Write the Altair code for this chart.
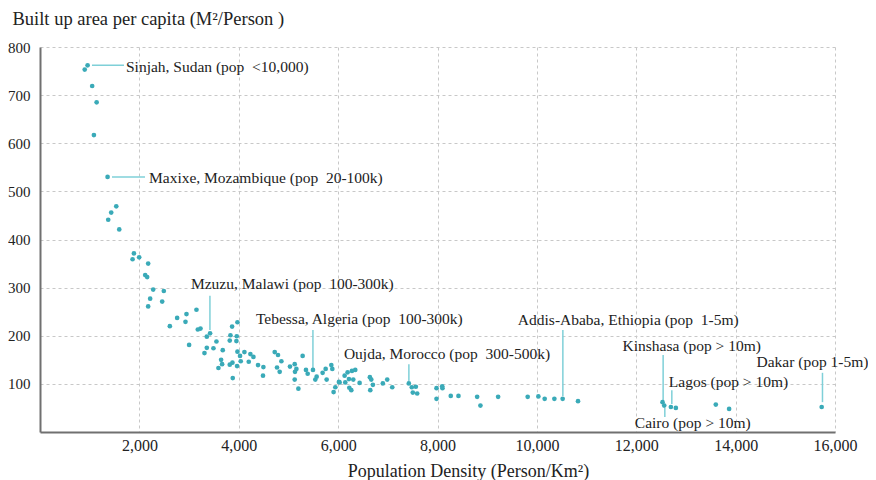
import altair as alt
import pandas as pd

density = [900, 958, 1050, 1140, 1085, 1360, 1535, 1433, 1373, 1595,
           1890, 1863, 1996, 2177, 2117, 2157, 2278, 2492, 2217, 2177,
           2459, 2613, 2760, 2928, 2948, 3149, 3001, 3176, 3230, 3423,
           3357, 3310, 3357, 3491, 3551, 3678, 3645, 3665, 3591, 3819,
           3833, 3866, 3974, 3960, 3953, 3974, 4026, 4114, 4040, 3873,
           3819, 3966, 3879, 4201, 4234, 4295, 4388, 4496, 4488, 4724,
           4790, 4858, 4770, 4824, 5031, 5126, 5160, 5132, 5126, 5200,
           5286, 5353, 5387, 5494, 5568, 5541, 5688, 5749, 5769, 5863,
           5883, 5944, 5909, 6030, 6131, 6144, 6191, 6218, 6225, 6265,
           6278, 6305, 6345, 6432, 6016, 6639, 6667, 6647, 6700, 6900,
           6988, 7089, 7423, 7483, 7564, 7503, 7591, 7980, 8094, 8100,
           7980, 8267, 8422, 8798, 8864, 9220, 9815, 10030, 10157, 10352,
           10519, 10828, 12529, 12563, 12697, 12797, 13601, 13869, 15732]
area = [753, 762, 719, 685, 617, 530, 469, 456, 441, 421,
        371, 359, 363, 350, 326, 322, 296, 293, 277, 261,
        271, 220, 237, 229, 245, 254, 181, 213, 215, 205,
        198, 164, 175, 174, 188, 170, 150, 141, 133, 190,
        201, 219, 228, 199, 189, 167, 158, 166, 147, 144,
        140, 137, 112, 146, 162, 156, 139, 135, 117, 166,
        160, 147, 134, 125, 136, 141, 131, 125, 109, 90,
        158, 129, 121, 129, 115, 109, 123, 131, 109, 139,
        131, 93, 83, 103, 117, 103, 124, 110, 92, 87,
        127, 109, 129, 102, 104, 114, 109, 87, 98, 101,
        109, 93, 101, 93, 94, 82, 80, 91, 95, 91,
        69, 75, 75, 73, 55, 73, 73, 74, 69, 69,
        69, 64, 62, 55, 52, 50, 57, 48, 52]

NB = "\u00a0"
label_text = ["Sinjah, Sudan (pop" + NB + " <10,000)", "Maxixe, Mozambique (pop" + NB + " 20-100k)",
              "Mzuzu, Malawi (pop" + NB + " 100-300k)", "Tebessa, Algeria (pop" + NB + " 100-300k)",
              "Oujda, Morocco (pop" + NB + " 300-500k)", "Addis-Ababa, Ethiopia (pop" + NB + " 1-5m)",
              "Kinshasa (pop > 10m)", "Lagos (pop > 10m)", "Cairo (pop > 10m)",
              "Dakar (pop 1-5m)"]
label_x = [1730, 2193, 3038, 4346, 6116, 9617, 11724, 12655, 11971, 14420]
label_y = [758, 528, 307, 235, 162, 233, 179, 104, 19, 145]
lead_x1 = [1046, 1449, 3420, 5493, 7424, 10523, 12541, 12716, 12575, 15748]
lead_x2 = [1690, 2113, 3420, 5493, 7424, 10523, 12541, 12716, 12575, 15748]
lead_y1 = [762, 530, 283, 212, 141, 212, 160, 87, 50, 123]
lead_y2 = [762, 530, 212, 133, 106, 75, 64, 58, 31, 62]

pts = pd.DataFrame({"d": density, "a": area})
labs = pd.DataFrame({"t": label_text, "x": label_x, "y": label_y})
leads = pd.DataFrame({"x": lead_x1, "x2": lead_x2, "y": lead_y1, "y2": lead_y2})

FONT = "Liberation Serif"

xscale = alt.Scale(domain=[0, 16000], nice=False)
yscale = alt.Scale(domain=[0, 800], nice=False)

points = alt.Chart(pts).mark_circle(size=22, color="#3AAAB8", opacity=1).encode(
    x=alt.X("d:Q", scale=xscale, axis=alt.Axis(
        title="Population Density (Person/Km²)", values=[2000, 4000, 6000, 8000, 10000, 12000, 14000, 16000],
        format=",d", grid=True, gridDash=[3, 3], gridColor="#c8c8c8",
        domainColor="#707070", domainWidth=2, ticks=False, labelPadding=5, labelFlush=False,
        labelFont=FONT, labelFontSize=16, labelColor="#222222",
        titleFont=FONT, titleFontSize=18, titleFontWeight="normal", titleColor="#222222",
        titleX=428, titleY=44, titleAlign="center", titleBaseline="alphabetic")),
    y=alt.Y("a:Q", scale=yscale, axis=alt.Axis(
        title="Built up area per capita (M²/Person )", values=[100, 200, 300, 400, 500, 600, 700, 800],
        grid=True, gridDash=[3, 3], gridColor="#c8c8c8",
        domainColor="#707070", domainWidth=2, ticks=False, labelPadding=10, labelFlush=False,
        labelFont=FONT, labelFontSize=15, labelColor="#222222",
        titleFont=FONT, titleFontSize=18.5, titleFontWeight="normal", titleColor="#222222",
        titleAngle=0, titleX=-28, titleY=-23, titleAlign="left", titleBaseline="alphabetic")),
)

rules = alt.Chart(leads).mark_rule(color="#7FD0D8", strokeWidth=1.5).encode(
    x=alt.X("x:Q", scale=xscale), x2="x2:Q",
    y=alt.Y("y:Q", scale=yscale), y2="y2:Q")

texts = alt.Chart(labs).mark_text(align="left", baseline="middle", font=FONT,
                                  fontSize=15.5, color="#222222").encode(
    x=alt.X("x:Q", scale=xscale), y=alt.Y("y:Q", scale=yscale), text="t:N")

chart = alt.layer(rules, points, texts).properties(
    width=795, height=385,
    padding={"left": 32, "top": 39, "right": 33, "bottom": 48},
    autosize=alt.AutoSizeParams(type="none"),
).configure_view(stroke=None)

chart.save("out.html", embed_options={"renderer": "svg", "actions": False})
